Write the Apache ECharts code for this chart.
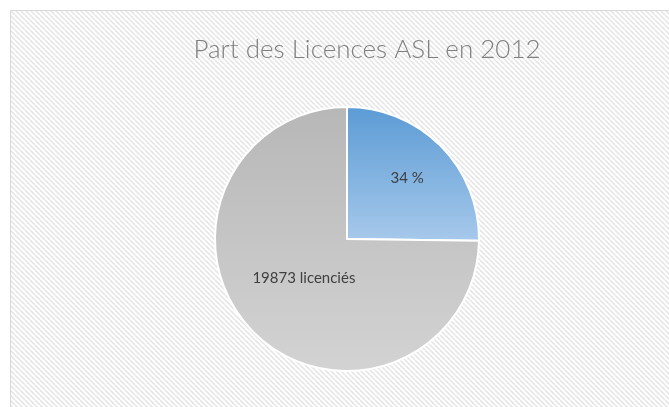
<!DOCTYPE html>
<html><head><meta charset="utf-8">
<script src="https://cdn.jsdelivr.net/npm/echarts@6/dist/echarts.min.js"></script>
<style>html,body{margin:0;padding:0;background:#fff}#c{width:669px;height:407px}</style>
</head><body><div id="c"></div>
<script>
const categories = ['ASL', 'Licenciés'];
const values = [6700, 19873];
const labels = ['34 %', '19873 licenciés'];
const titleText = 'Part des Licences ASL en 2012';

function stripes() {
  const s = 5, c = document.createElement('canvas');
  c.width = s; c.height = s;
  const g = c.getContext('2d');
  g.fillStyle = '#ffffff'; g.fillRect(0, 0, s, s);
  g.strokeStyle = '#e6e6e6'; g.lineWidth = 1.6;
  for (let k = -1; k <= 1; k++) {
    g.beginPath(); g.moveTo(k * s, 0); g.lineTo(k * s + s, s); g.stroke();
  }
  return c;
}

const chart = echarts.init(document.getElementById('c'), null, {renderer: 'canvas'});
const grad = (a, b) => new echarts.graphic.LinearGradient(0, 0, 0, 1, [{offset: 0, color: a}, {offset: 1, color: b}]);
const colors = [grad('#5b9bd5', '#a7c9eb'), grad('#b7b7b7', '#d3d3d3')];
const offsets = [[11, -12], [6, -9]];

chart.setOption({
  animation: false,
  graphic: [{
    type: 'rect', z: -10, silent: true,
    shape: {x: 10.5, y: 10.5, width: 700, height: 420},
    style: {fill: {image: stripes(), repeat: 'repeat'}, stroke: '#d9d9d9', lineWidth: 1}
  }],
  title: {
    text: titleText, left: 362, top: 32, textAlign: 'center',
    textStyle: {fontFamily: 'Lato', fontWeight: 300, fontSize: 26, color: '#808080'}
  },
  series: [{
    type: 'pie', center: [347, 239], radius: 132, startAngle: 90, clockwise: true,
    itemStyle: {borderColor: '#ffffff', borderWidth: 2},
    label: {
      position: 'inside', fontFamily: 'Lato', fontSize: 15, color: '#404040'
    },
    labelLine: {show: false},
    data: categories.map((n, i) => ({
      name: n, value: values[i],
      itemStyle: {color: colors[i]},
      label: {formatter: labels[i], offset: offsets[i]}
    }))
  }]
});
</script></body></html>
